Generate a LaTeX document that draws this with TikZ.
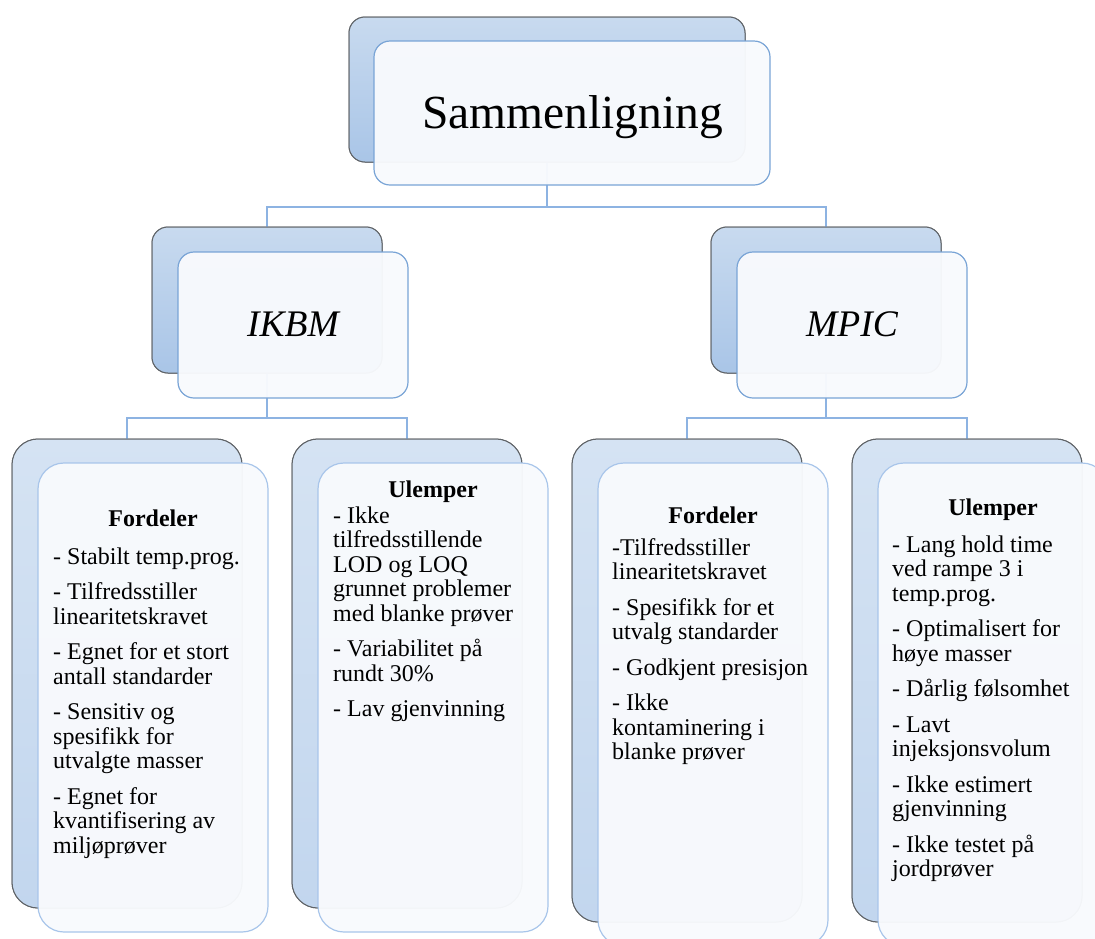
\documentclass[tikz,border=0pt]{standalone}
\usepackage{fontspec}
\setmainfont{Liberation Serif}
\definecolor{bktop}{HTML}{C8DAEF}
\definecolor{bkbot}{HTML}{A9C5E7}
\definecolor{lftop}{HTML}{D5E3F3}
\definecolor{lfbot}{HTML}{C2D6EE}
\definecolor{bkline}{HTML}{5F6367}
\definecolor{frfill}{HTML}{F8FAFD}
\definecolor{frline}{HTML}{79A4D6}
\definecolor{lfline}{HTML}{A8C5EA}
\definecolor{conn}{HTML}{8DB3E2}
\tikzset{
  backbox/.style={draw=bkline, line width=1pt, rounded corners=16pt, top color=bktop, bottom color=bkbot, inner sep=0pt},
  frontbox/.style={draw=frline, line width=1.2pt, rounded corners=16pt, fill=frfill, fill opacity=0.965, draw opacity=1, inner sep=0pt},
  leafback/.style={draw=bkline, line width=1pt, rounded corners=26pt, top color=lftop, bottom color=lfbot, inner sep=0pt, minimum width=230pt},
  leaffront/.style={draw=lfline, line width=1.2pt, rounded corners=26pt, fill=frfill, fill opacity=0.965, draw opacity=1, inner sep=0pt, minimum width=230pt},
  link/.style={draw=conn, line width=2.6pt},
  headtxt/.style={anchor=base, inner sep=0pt, font=\fontsize{24}{24.5}\selectfont\bfseries},
  itemtxt/.style={anchor=north west, inner sep=0pt, align=left, font=\fontsize{24}{24.5}\selectfont},
  midtxt/.style={anchor=base, inner sep=0pt, font=\fontsize{37.5}{40}\selectfont\itshape},
}
\begin{document}
\begin{tikzpicture}[x=1pt,y=-1pt]
\useasboundingbox (0,0) rectangle (1095,938);
\clip (0,0) rectangle (1095,938);
\coordinate (busA) at (0,207);
\coordinate (busB) at (0,418);
% back boxes (placement)
\node[backbox, minimum width=396pt, minimum height=145pt] (tb) at (547,89.5) {};
\node[backbox, minimum width=230pt, minimum height=146pt] (ib) at (267,300) {};
\node[backbox, minimum width=230pt, minimum height=146pt] (mb) at (826,300) {};
\node[leafback, minimum height=469pt] (ifb) at (127,673.5) {};
\node[leafback, minimum height=469pt] (iub) at (407,673.5) {};
\node[leafback, minimum height=483pt] (mfb) at (687,680.5) {};
\node[leafback, minimum height=483pt] (mub) at (967,680.5) {};
% connectors
\draw[link] (tb.center) -- (tb.center |- busA) -| (ib.north);
\draw[link] (tb.center |- busA) -| (mb.north);
\draw[link] (ib.center) -- (ib.center |- busB) -| (ifb.north);
\draw[link] (ib.center |- busB) -| (iub.north);
\draw[link] (mb.center) -- (mb.center |- busB) -| (mfb.north);
\draw[link] (mb.center |- busB) -| (mub.north);
% back boxes again, over the connectors
\node[backbox, minimum width=396pt, minimum height=145pt] (tb2) at (tb.center) {};
\node[backbox, minimum width=230pt, minimum height=146pt] (ib2) at (ib.center) {};
\node[backbox, minimum width=230pt, minimum height=146pt] (mb2) at (mb.center) {};
\node[leafback, minimum height=469pt] (ifb2) at (ifb.center) {};
\node[leafback, minimum height=469pt] (iub2) at (iub.center) {};
\node[leafback, minimum height=483pt] (mfb2) at (mfb.center) {};
\node[leafback, minimum height=483pt] (mub2) at (mub.center) {};
% front boxes
\node[frontbox, minimum width=396pt, minimum height=144pt] (tf) at (572,113) {};
\node[frontbox, minimum width=230pt, minimum height=146pt] (if) at (293,325) {};
\node[frontbox, minimum width=230pt, minimum height=146pt] (mf) at (852,325) {};
\node[leaffront, minimum height=469pt] (iff) at (153,697.5) {};
\node[leaffront, minimum height=469pt] (iuf) at (433,697.5) {};
\node[leaffront, minimum height=483pt] (mff) at (713,704.5) {};
\node[leaffront, minimum height=483pt] (muf) at (993,704.5) {};
% texts
\node[anchor=base, inner sep=0pt, font=\fontsize{47.5}{50}\selectfont] (tt) at (572.5,128) {Sammenligning};
\node[midtxt] (it) at (293,336) {IKBM};
\node[midtxt] (mt) at (852,336) {MPIC};
% IKBM Fordeler
\node[headtxt] (ifh) at (153,526) {Fordeler};
\node[itemtxt] (ifi) at (53,546.85) {\strut- Stabilt temp.prog.\\[11pt]
- Tilfredsstiller\\ linearitetskravet\\[11pt]
- Egnet for et stort\\ antall standarder\\[11pt]
- Sensitiv og\\ spesifikk for\\ utvalgte masser\\[11pt]
- Egnet for\\ kvantifisering av\\ miljøprøver};
% IKBM Ulemper
\node[headtxt] (iuh) at (433,497) {Ulemper};
\node[itemtxt] (iui) at (333,505.85) {\strut- Ikke\\ tilfredsstillende\\ LOD og LOQ\\ grunnet problemer\\ med blanke prøver\\[11pt]
- Variabilitet på\\ rundt 30\%\\[11pt]
- Lav gjenvinning};
% MPIC Fordeler
\node[headtxt] (mfh) at (713,523) {Fordeler};
\node[itemtxt] (mfi) at (612,537.85) {\strut-Tilfredsstiller\\ linearitetskravet\\[11pt]
- Spesifikk for et\\ utvalg standarder\\[11pt]
- Godkjent presisjon\\[11pt]
- Ikke\\ kontaminering i\\ blanke prøver};
% MPIC Ulemper
\node[headtxt] (muh) at (993,515) {Ulemper};
\node[itemtxt] (mui) at (892,534.85) {\strut- Lang hold time\\ ved rampe 3 i\\ temp.prog.\\[11pt]
- Optimalisert for\\ høye masser\\[11pt]
- Dårlig følsomhet\\[11pt]
- Lavt\\ injeksjonsvolum\\[11pt]
- Ikke estimert\\ gjenvinning\\[11pt]
- Ikke testet på\\ jordprøver};
\end{tikzpicture}
\end{document}
